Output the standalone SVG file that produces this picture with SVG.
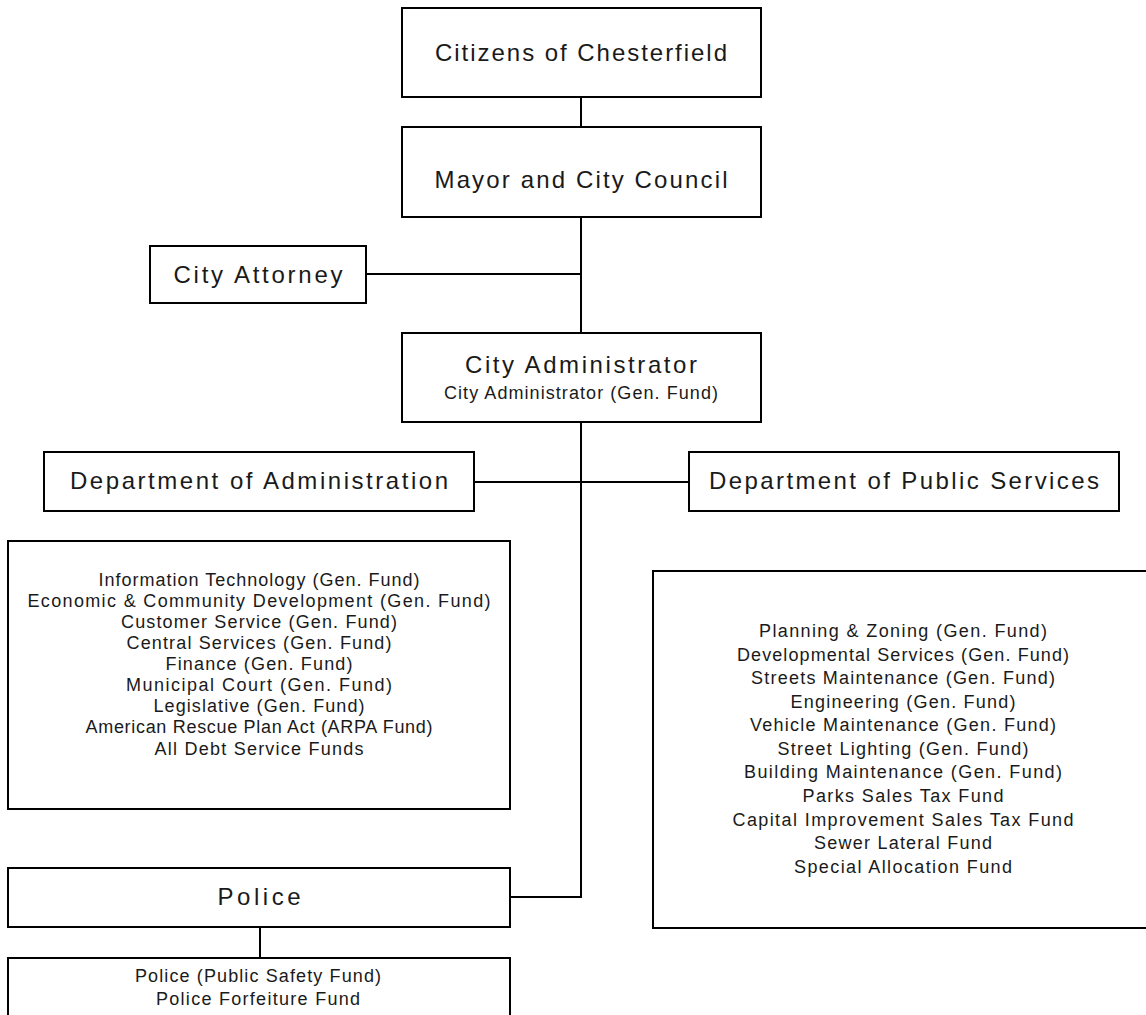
<svg xmlns="http://www.w3.org/2000/svg" width="1146" height="1015" viewBox="0 0 1146 1015">
<style>
  .box { fill: #ffffff; stroke: #000000; stroke-width: 2; }
  .conn { fill: none; stroke: #000000; stroke-width: 2; }
  text { font-family: "Liberation Sans", Arial, sans-serif; fill: #1a1a1a; text-anchor: middle; }
  .h { font-size: 24px; }
  .s { font-size: 18px; }
</style>
<rect x="0" y="0" width="1146" height="1015" fill="#ffffff"/>
<g id="connectors">
  <line class="conn" x1="581" y1="97" x2="581" y2="127"/>
  <line class="conn" x1="581" y1="217" x2="581" y2="333"/>
  <line class="conn" x1="366" y1="274" x2="581" y2="274"/>
  <polyline class="conn" points="581,422 581,897 510,897"/>
  <line class="conn" x1="474" y1="482" x2="689" y2="482"/>
  <line class="conn" x1="260" y1="927" x2="260" y2="958"/>
</g>
<g id="citizens">
  <rect class="box" x="402" y="8" width="359" height="89"/>
  <text class="h" x="581" y="61" textLength="292" lengthAdjust="spacing">Citizens of Chesterfield</text>
</g>
<g id="mayor">
  <rect class="box" x="402" y="127" width="359" height="90"/>
  <text class="h" x="581" y="188" textLength="293" lengthAdjust="spacing">Mayor and City Council</text>
</g>
<g id="attorney">
  <rect class="box" x="150" y="246" width="216" height="57"/>
  <text class="h" x="258" y="283" textLength="169" lengthAdjust="spacing">City Attorney</text>
</g>
<g id="administrator">
  <rect class="box" x="402" y="333" width="359" height="89"/>
  <text class="h" x="581" y="373" textLength="232" lengthAdjust="spacing">City Administrator</text>
  <text class="s" x="581" y="399" textLength="274" lengthAdjust="spacing">City Administrator (Gen. Fund)</text>
</g>
<g id="dept-admin">
  <rect class="box" x="44" y="452" width="430" height="59"/>
  <text class="h" x="259" y="489" textLength="378" lengthAdjust="spacing">Department of Administration</text>
</g>
<g id="dept-public">
  <rect class="box" x="689" y="452" width="430" height="59"/>
  <text class="h" x="904" y="489" textLength="390" lengthAdjust="spacing">Department of Public Services</text>
</g>
<g id="admin-list">
  <rect class="box" x="8" y="541" width="502" height="268"/>
  <text class="s" x="259" y="586" textLength="321" lengthAdjust="spacing">Information Technology (Gen. Fund)</text>
  <text class="s" x="259" y="607" textLength="463" lengthAdjust="spacing">Economic &amp; Community Development (Gen. Fund)</text>
  <text class="s" x="259" y="628" textLength="276" lengthAdjust="spacing">Customer Service (Gen. Fund)</text>
  <text class="s" x="259" y="649" textLength="265" lengthAdjust="spacing">Central Services (Gen. Fund)</text>
  <text class="s" x="259" y="670" textLength="187" lengthAdjust="spacing">Finance (Gen. Fund)</text>
  <text class="s" x="259" y="691" textLength="266" lengthAdjust="spacing">Municipal Court (Gen. Fund)</text>
  <text class="s" x="259" y="712" textLength="211" lengthAdjust="spacing">Legislative (Gen. Fund)</text>
  <text class="s" x="259" y="733" textLength="347" lengthAdjust="spacing">American Rescue Plan Act (ARPA Fund)</text>
  <text class="s" x="259" y="755" textLength="209" lengthAdjust="spacing">All Debt Service Funds</text>
</g>
<g id="public-list">
  <rect class="box" x="653" y="571" width="500" height="357"/>
  <text class="s" x="903" y="637" textLength="288" lengthAdjust="spacing">Planning &amp; Zoning (Gen. Fund)</text>
  <text class="s" x="903" y="661" textLength="332" lengthAdjust="spacing">Developmental Services (Gen. Fund)</text>
  <text class="s" x="903" y="684" textLength="304" lengthAdjust="spacing">Streets Maintenance (Gen. Fund)</text>
  <text class="s" x="903" y="708" textLength="225" lengthAdjust="spacing">Engineering (Gen. Fund)</text>
  <text class="s" x="903" y="731" textLength="306" lengthAdjust="spacing">Vehicle Maintenance (Gen. Fund)</text>
  <text class="s" x="903" y="755" textLength="251" lengthAdjust="spacing">Street Lighting (Gen. Fund)</text>
  <text class="s" x="903" y="778" textLength="318" lengthAdjust="spacing">Building Maintenance (Gen. Fund)</text>
  <text class="s" x="903" y="802" textLength="201" lengthAdjust="spacing">Parks Sales Tax Fund</text>
  <text class="s" x="903" y="826" textLength="341" lengthAdjust="spacing">Capital Improvement Sales Tax Fund</text>
  <text class="s" x="903" y="849" textLength="178" lengthAdjust="spacing">Sewer Lateral Fund</text>
  <text class="s" x="903" y="873" textLength="218" lengthAdjust="spacing">Special Allocation Fund</text>
</g>
<g id="police">
  <rect class="box" x="8" y="868" width="502" height="59"/>
  <text class="h" x="259" y="905" textLength="83" lengthAdjust="spacing">Police</text>
</g>
<g id="police-funds">
  <rect class="box" x="8" y="958" width="502" height="80"/>
  <text class="s" x="258" y="982" textLength="246" lengthAdjust="spacing">Police (Public Safety Fund)</text>
  <text class="s" x="258" y="1005" textLength="204" lengthAdjust="spacing">Police Forfeiture Fund</text>
</g>
</svg>
